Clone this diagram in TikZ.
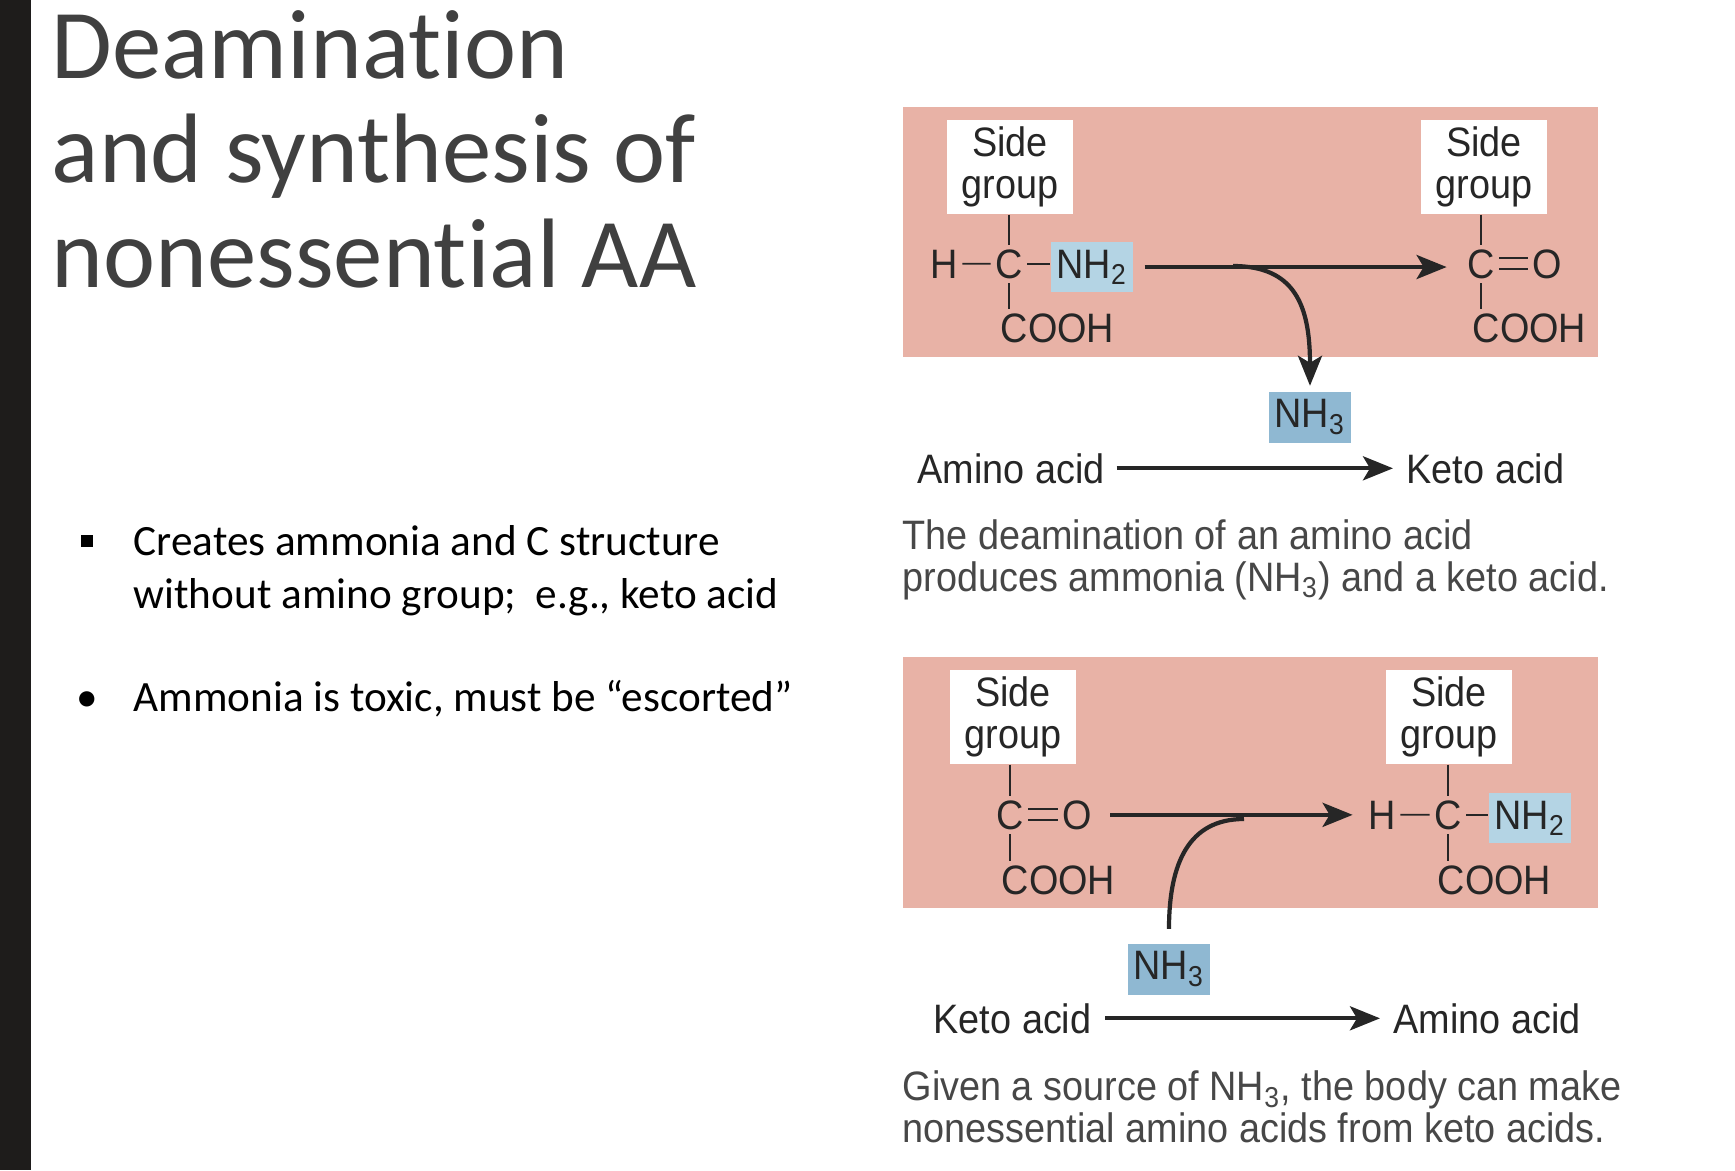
\documentclass[tikz,border=0pt]{standalone}
\usepackage{fontspec}
\setmainfont{Carlito}[Ligatures=NoCommon]
\newfontfamily\figfont[FakeStretch=0.92]{Liberation Sans}
\usetikzlibrary{arrows.meta}
\definecolor{slidebar}{HTML}{1E1C1B}
\definecolor{titlegray}{HTML}{404040}
\definecolor{boxpink}{HTML}{E8B2A6}
\definecolor{aminoblue}{HTML}{B4D4E4}
\definecolor{nhblue}{HTML}{8FB8D2}
\definecolor{ink}{HTML}{262626}
\begin{document}
\begin{tikzpicture}[x=.1mm,y=-.1mm,
atom/.style={font={\figfont\fontsize{11.7}{12}\selectfont},text=ink,inner sep=.4mm},
sidebox/.style={atom,fill=white,align=center,minimum width=12.6mm,minimum height=9.4mm},
nhtwo/.style={atom,fill=aminoblue,minimum width=8.2mm,minimum height=5mm},
nhthree/.style={atom,fill=nhblue,minimum width=8.2mm,minimum height=5.1mm},
capt/.style={font={\figfont\fontsize{11.7}{11.7}\selectfont},text=ink!85,align=left,inner sep=0pt,anchor=base west},
bond/.style={ink,line width=.5pt},
rxn/.style={ink,line width=1.2pt,-{Stealth[length=3mm,width=2.4mm,inset=.7mm]}}]
\useasboundingbox(0,0)rectangle(1735,1170);
\fill[slidebar](0,0)rectangle(31,1170);
\node[anchor=base west,align=left,inner sep=0pt,text=titlegray,font={\fontsize{28.1}{29.6}\selectfont}](title)at(51,287){Deamination\\and synthesis of\\nonessential AA};
\node[fill=black,minimum size=1.15mm,inner sep=0pt](sq)at(87,541){};
\node[anchor=base west,align=left,inner sep=0pt,font={\fontsize{12.3}{14.8}\selectfont}](pointa)at(133,608){Creates ammonia and C structure\\without amino group;~ e.g., keto acid};
\node[anchor=base,inner sep=0pt,font={\fontsize{12.3}{14.8}\selectfont}](dot)at(87,711){•};
\node[anchor=base west,inner sep=0pt,font={\fontsize{12.3}{14.8}\selectfont}](pointb)at(133,711){Ammonia is toxic, must be “escorted”};
\begin{scope}
\fill[boxpink](903,107)rectangle(1598,357);
\node[sidebox](sidea)at(1010,167){Side\\group};
\node[sidebox](sideb)at(1484,167){Side\\group};
\node[atom,anchor=base](ha)at(944,278){H};
\node[atom,anchor=base](ca)at(1009,278){C};
\node[nhtwo,anchor=base](nha)at(1092,278){NH\textsubscript{2}};
\node[atom,anchor=base west](cooha)at(996,342){COOH};
\node[atom,anchor=base](cka)at(1481,278){C};
\node[atom,anchor=base](oka)at(1547,278){O};
\node[atom,anchor=base west](coohb)at(1468,342){COOH};
\draw[bond](ca.north|-sidea.south)--(ca.north);
\draw[bond](ca.south)--(ca.south|-cooha.north);
\draw[bond](ha.east)--(ca.west);
\draw[bond](ca.east)--(ca.east-|nha.west);
\draw[bond](cka.north|-sideb.south)--(cka.north);
\draw[bond](cka.south)--(cka.south|-coohb.north);
\draw[bond]([yshift=.55mm]cka.east)--([yshift=.55mm]oka.west);
\draw[bond]([yshift=-.55mm]cka.east)--([yshift=-.55mm]oka.west);
\node[nhthree](nhta)at(1310,417){NH\textsubscript{3}};
\coordinate(splita)at(1233,266);
\draw[rxn,shorten <=1.1mm,shorten >=1.6mm](nha.east)--(nha.east-|cka.west);
\draw[rxn,shorten >=.5mm](splita)..controls+(62,0)and+(0,-85)..(nhta.north);
\node[atom,anchor=base west](aminoa)at(913,483){Amino acid};
\node[atom,anchor=base west](ketoa)at(1402,483){Keto acid};
\draw[rxn,shorten <=.7mm,shorten >=.9mm](aminoa.east)--(ketoa.west);
\node[capt](capa)at(902,591){The deamination of an amino acid\\produces ammonia (NH\textsubscript{3}) and a keto acid.};
\end{scope}
\begin{scope}
\fill[boxpink](903,657)rectangle(1598,908);
\node[sidebox](sidec)at(1013,717){Side\\group};
\node[sidebox](sided)at(1449,717){Side\\group};
\node[atom,anchor=base](ckb)at(1010,829){C};
\node[atom,anchor=base](okb)at(1077,829){O};
\node[atom,anchor=base west](coohc)at(997,894){COOH};
\node[atom,anchor=base](hb)at(1382,829){H};
\node[atom,anchor=base](cb)at(1448,829){C};
\node[nhtwo,anchor=base](nhb)at(1530,829){NH\textsubscript{2}};
\node[atom,anchor=base west](coohd)at(1433,894){COOH};
\draw[bond](ckb.north|-sidec.south)--(ckb.north);
\draw[bond](ckb.south)--(ckb.south|-coohc.north);
\draw[bond]([yshift=.55mm]ckb.east)--([yshift=.55mm]okb.west);
\draw[bond]([yshift=-.55mm]ckb.east)--([yshift=-.55mm]okb.west);
\draw[bond](cb.north|-sided.south)--(cb.north);
\draw[bond](cb.south)--(cb.south|-coohd.north);
\draw[bond](hb.east)--(cb.west);
\draw[bond](cb.east)--(cb.east-|nhb.west);
\node[nhthree](nhtb)at(1169,969){NH\textsubscript{3}};
\coordinate(splitb)at(1244,819);
\draw[rxn,shorten <=1.4mm,shorten >=1.1mm](okb.east)--(okb.east-|hb.west);
\draw[ink,line width=1.2pt,shorten <=1.4mm](nhtb.north)..controls+(0,-80)and+(-55,0)..(splitb);
\node[atom,anchor=base west](ketob)at(929,1033){Keto acid};
\node[atom,anchor=base west](aminob)at(1389,1033){Amino acid};
\draw[rxn,shorten <=.9mm,shorten >=.9mm](ketob.east)--(aminob.west);
\node[capt](capb)at(902,1142){Given a source of NH\textsubscript{3}, the body can make\\nonessential amino acids from keto acids.};
\end{scope}
\end{tikzpicture}
\end{document}
